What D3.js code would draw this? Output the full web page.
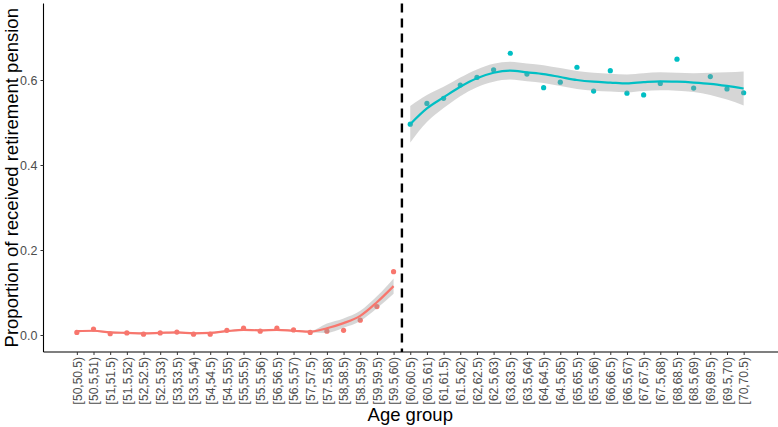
<!DOCTYPE html>
<html>
<head>
<meta charset="utf-8">
<script src="https://cdn.jsdelivr.net/npm/d3@7/dist/d3.min.js"></script>
<style>
  html, body { margin: 0; padding: 0; background: #fff; }
  svg { display: block; font-family: "Liberation Sans", Arial, sans-serif; }
</style>
</head>
<body>
<svg id="chart" width="778" height="427"></svg>
<script>
// ---- data ----
const categories = [
  "[50,50.5)","[50.5,51)","[51,51.5)","[51.5,52)","[52,52.5)","[52.5,53)","[53,53.5)","[53.5,54)",
  "[54,54.5)","[54.5,55)","[55,55.5)","[55.5,56)","[56,56.5)","[56.5,57)","[57,57.5)","[57.5,58)",
  "[58,58.5)","[58.5,59)","[59,59.5)","[59.5,60)","[60,60.5)","[60.5,61)","[61,61.5)","[61.5,62)",
  "[62,62.5)","[62.5,63)","[63,63.5)","[63.5,64)","[64,64.5)","[64.5,65)","[65,65.5)","[65.5,66)",
  "[66,66.5)","[66.5,67)","[67,67.5)","[67.5,68)","[68,68.5)","[68.5,69)","[69,69.5)","[69.5,70)",
  "[70,70.5)"
];
const beforeCats = categories.slice(0, 20);
const afterCats = categories.slice(20);

const beforeValues = [0.006, 0.014, 0.003, 0.005, 0.002, 0.005, 0.007, 0.002, 0.002, 0.011,
                      0.016, 0.009, 0.016, 0.012, 0.006, 0.009, 0.011, 0.035, 0.067, 0.149];
const beforeFit    = [0.009, 0.010, 0.006, 0.005, 0.004, 0.005, 0.006, 0.004, 0.005, 0.009,
                      0.012, 0.011, 0.012, 0.010, 0.008, 0.016, 0.028, 0.045, 0.077, 0.115];
const beforeSE     = [0.002, 0.002, 0.002, 0.002, 0.002, 0.002, 0.002, 0.002, 0.002, 0.002,
                      0.002, 0.002, 0.002, 0.002, 0.002, 0.011, 0.011, 0.012, 0.014, 0.018];

const afterValues = [0.496, 0.545, 0.557, 0.588, 0.606, 0.624, 0.663, 0.614, 0.582, 0.595,
                     0.630, 0.574, 0.622, 0.569, 0.565, 0.592, 0.649, 0.581, 0.608, 0.579, 0.570];
const afterFit    = [0.496, 0.533, 0.559, 0.584, 0.604, 0.617, 0.622, 0.618, 0.614, 0.607,
                     0.600, 0.596, 0.594, 0.592, 0.595, 0.597, 0.596, 0.594, 0.591, 0.586, 0.580];
const afterSE     = [0.043, 0.032, 0.025, 0.022, 0.021, 0.021, 0.021, 0.021, 0.021, 0.021,
                     0.021, 0.021, 0.021, 0.021, 0.021, 0.021, 0.021, 0.022, 0.026, 0.032, 0.040];

const yTicks = [0.0, 0.2, 0.4, 0.6];

// ---- layout ----
const svg = d3.select("#chart");
const mLeft = 43.5, mRight = 777, mTop = 3.5, mBottom = 352;

const x = d3.scalePoint().domain(categories).range([mLeft, mRight]).padding(2);
const y = d3.scaleLinear().domain([-0.04, 0.78]).range([mBottom, mTop]);

const colBefore = "#F8766D", colAfter = "#00BFC4";

function build(cats, vals, fit, se) {
  return cats.map((c, i) => ({c, v: vals[i], f: fit[i], lo: fit[i] - se[i], hi: fit[i] + se[i]}));
}
const groups = [
  {data: build(beforeCats, beforeValues, beforeFit, beforeSE), col: colBefore},
  {data: build(afterCats, afterValues, afterFit, afterSE), col: colAfter}
];

const area = d3.area().x(d => x(d.c)).y0(d => y(d.lo)).y1(d => y(d.hi)).curve(d3.curveMonotoneX);
const line = d3.line().x(d => x(d.c)).y(d => y(d.f)).curve(d3.curveMonotoneX);

groups.forEach(g => {
  svg.append("g").selectAll("circle").data(g.data).join("circle")
    .attr("cx", d => x(d.c)).attr("cy", d => y(d.v)).attr("r", 2.6)
    .attr("fill", g.col);
});
groups.forEach(g => {
  svg.append("path").datum(g.data).attr("d", area)
    .attr("fill", "#999999").attr("fill-opacity", 0.4);
  svg.append("path").datum(g.data).attr("d", line)
    .attr("fill", "none").attr("stroke", g.col).attr("stroke-width", 2.2);
});

// vertical dashed line between groups
const vx = (x(beforeCats[beforeCats.length - 1]) + x(afterCats[0])) / 2;
svg.append("line")
  .attr("x1", vx).attr("x2", vx).attr("y1", mTop).attr("y2", mBottom)
  .attr("stroke", "#000").attr("stroke-width", 2.4).attr("stroke-dasharray", "9,6");

// axes
const yAxis = svg.append("g").attr("transform", `translate(${mLeft},0)`)
  .call(d3.axisLeft(y).tickValues(yTicks).tickFormat(d3.format(".1f")).tickSize(3).tickPadding(3));
yAxis.select(".domain").attr("d", `M0,${mTop}V${mBottom}`).attr("stroke", "#000").attr("stroke-width", 1.1);
yAxis.selectAll(".tick line").attr("stroke", "#333");
yAxis.selectAll(".tick text").attr("font-size", 12.5).attr("fill", "#4D4D4D")
  .attr("font-family", "Liberation Sans, Arial, sans-serif");

const xAxis = svg.append("g").attr("transform", `translate(0,${mBottom})`)
  .call(d3.axisBottom(x).tickSize(3).tickPadding(3));
xAxis.select(".domain").attr("d", `M${mLeft},0H${mRight + 1}`).attr("stroke", "#000").attr("stroke-width", 1.1);
xAxis.selectAll(".tick line").attr("stroke", "#333");
xAxis.selectAll(".tick text")
  .attr("font-size", 12).attr("fill", "#4D4D4D")
  .attr("font-family", "Liberation Sans, Arial, sans-serif")
  .attr("transform", "rotate(-90)")
  .attr("text-anchor", "end")
  .attr("x", -5).attr("y", 0).attr("dy", "0.35em");

// titles
svg.append("text").attr("x", (mLeft + mRight) / 2).attr("y", 421)
  .attr("text-anchor", "middle").attr("font-size", 18.5).attr("fill", "#000")
  .text("Age group");
svg.append("text").attr("transform", `translate(18,${(mTop + mBottom) / 2}) rotate(-90)`)
  .attr("text-anchor", "middle").attr("font-size", 18.5).attr("fill", "#000")
  .text("Proportion of received retirement pension");
</script>
</body>
</html>
